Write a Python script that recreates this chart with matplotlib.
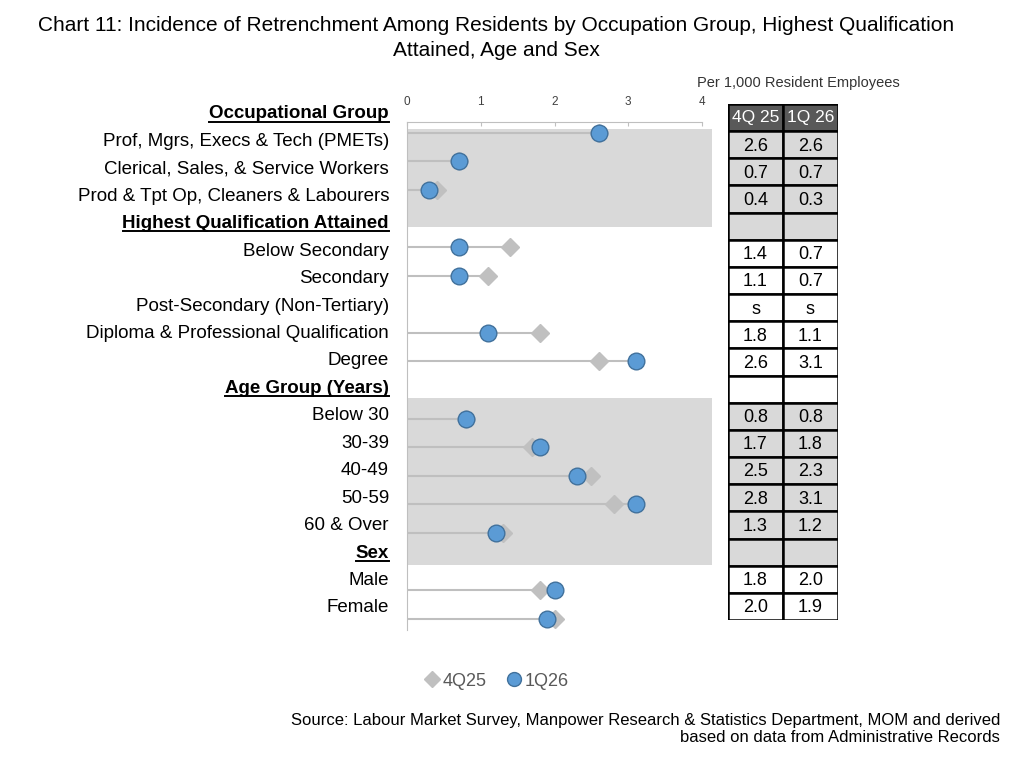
import numpy as np
import matplotlib
matplotlib.use("Agg")
import matplotlib.pyplot as plt
from matplotlib.lines import Line2D
from matplotlib.patches import Rectangle

plt.rcParams['font.family'] = ['Liberation Sans', 'DejaVu Sans']

# data (per 1,000 resident employees), None = suppressed ("s")
groups = ["Occupational Group", "Highest Qualification Attained", "Age Group (Years)", "Sex"]
categories = [
    ["Prof, Mgrs, Execs & Tech (PMETs)", "Clerical, Sales, & Service Workers",
     "Prod & Tpt Op, Cleaners & Labourers"],
    ["Below Secondary", "Secondary", "Post-Secondary (Non-Tertiary)",
     "Diploma & Professional Qualification", "Degree"],
    ["Below 30", "30-39", "40-49", "50-59", "60 & Over"],
    ["Male", "Female"],
]
val_4q25 = [[2.6, 0.7, 0.4], [1.4, 1.1, None, 1.8, 2.6], [0.8, 1.7, 2.5, 2.8, 1.3], [1.8, 2.0]]
val_1q26 = [[2.6, 0.7, 0.3], [0.7, 0.7, None, 1.1, 3.1], [0.8, 1.8, 2.3, 3.1, 1.2], [2.0, 1.9]]
series_names = ["4Q25", "1Q26"]
table_cols = ["4Q 25", "1Q 26"]

# flatten into rows: header row then members
labels, header, a, b, shade = [], [], [], [], []
for g, name in enumerate(groups):
    labels.append(name); header.append(True); a.append(np.nan); b.append(np.nan)
    shade.append(g > 0 and (g - 1) % 2 == 0)
    for c, v1, v2 in zip(categories[g], val_4q25[g], val_1q26[g]):
        labels.append(c); header.append(False)
        a.append(np.nan if v1 is None else v1)
        b.append(np.nan if v2 is None else v2)
        shade.append(g % 2 == 0)
a = np.array(a); b = np.array(b)
ypos = np.arange(len(labels))

W, H = 1024, 782
fig = plt.figure(figsize=(W / 100, H / 100), dpi=100)

fig.text(496 / W, 1 - 38 / H,
         "Chart 11: Incidence of Retrenchment Among Residents by Occupation Group, Highest Qualification\nAttained, Age and Sex",
         ha='center', va='center', fontsize=15, linespacing=1.38)

# dot plot
ax = fig.add_axes([407 / W, 1 - 630 / H, 295 / W, 508 / H])
ax.set_xlim(0, 4)
ax.set_ylim(18.4, 0.62)
for lo, hi in [(0.86, 4.29), (10.27, 16.14)]:
    ax.axhspan(lo, hi, xmin=0, xmax=1.034, color='#d9d9d9', lw=0, zorder=0, clip_on=False)
top = np.fmax(a, b)
ok = ~np.isnan(top)
ax.hlines(ypos[ok], 0, top[ok], color='#bfbfbf', lw=1.5, zorder=2)
ax.plot(a, ypos, 'D', ms=9, color='#c0c0c0', zorder=3, label=series_names[0])
ax.plot(b, ypos, 'o', ms=12, mfc='#5b9bd5', mec='#41719c', mew=1, zorder=4, label=series_names[1])

ax.xaxis.tick_top()
ax.set_xticks([0, 1, 2, 3, 4])
ax.tick_params(axis='x', direction='in', length=3, color='#bfbfbf', labelsize=8.5,
               labelcolor='#404040', pad=10)
ax.set_yticks([])
for s in ['right', 'bottom']:
    ax.spines[s].set_visible(False)
for s in ['top', 'left']:
    ax.spines[s].set_color('#bfbfbf')
ax.patch.set_alpha(0)

# row labels
texts = []
for i, lab in enumerate(labels):
    t = fig.text(389 / W, 1 - (114 + 27.44 * i) / H, lab, ha='right', va='center',
                 fontsize=13.5, fontweight='bold' if header[i] else 'normal')
    texts.append((t, header[i]))

fig.text(900 / W, 1 - 83 / H, "Per 1,000 Resident Employees", ha='right', va='center',
         fontsize=10.5, color='#333333')

# table: header row + one row per label row (group headers blank)
tx = fig.add_axes([728 / W, 1 - 620 / H, 110 / W, 516 / H])
tx.set_xlim(0, 2)
tx.set_ylim(len(labels), 0)
tx.axis('off')
for j, col in enumerate(table_cols):
    tx.add_patch(Rectangle((j, 0), 1, 1, fc='#595959', ec='black', lw=1.8))
    tx.text(j + 0.5, 0.5, col, ha='center', va='center', color='white', fontsize=12.5)
for k in range(1, len(labels)):
    for j in range(2):
        fc = '#d9d9d9' if shade[k] else 'white'
        tx.add_patch(Rectangle((j, k), 1, 1, fc=fc, ec='black', lw=1.8))
        if not header[k]:
            v = a[k] if j == 0 else b[k]
            s = 's' if np.isnan(v) else f"{v:.1f}"
            tx.text(j + 0.5, k + 0.55, s, ha='center', va='center', fontsize=13)

# legend
handles = [Line2D([], [], marker='D', ls='', color='#c0c0c0', ms=8),
           Line2D([], [], marker='o', ls='', mfc='#5b9bd5', mec='#41719c', ms=10)]
fig.legend(handles, series_names, loc='center', bbox_to_anchor=(496 / W, 1 - 681 / H),
           ncol=2, frameon=False, fontsize=13, handletextpad=0.1, columnspacing=1.0,
           labelcolor='#595959', handlelength=1.0)

fig.text(1000 / W, 1 - 729 / H,
         "Source: Labour Market Survey, Manpower Research & Statistics Department, MOM and derived\nbased on data from Administrative Records",
         ha='right', va='center', fontsize=12, multialignment='right', linespacing=1.25)

# underline group headers
fig.canvas.draw()
r = fig.canvas.get_renderer()
for t, h in texts:
    if h:
        bb = t.get_window_extent(r)
        fig.add_artist(Line2D([bb.x0, bb.x1], [bb.y0 + 1, bb.y0 + 1], color='black', lw=1.4,
                              transform=None))

fig.savefig("out.png", dpi=100)
